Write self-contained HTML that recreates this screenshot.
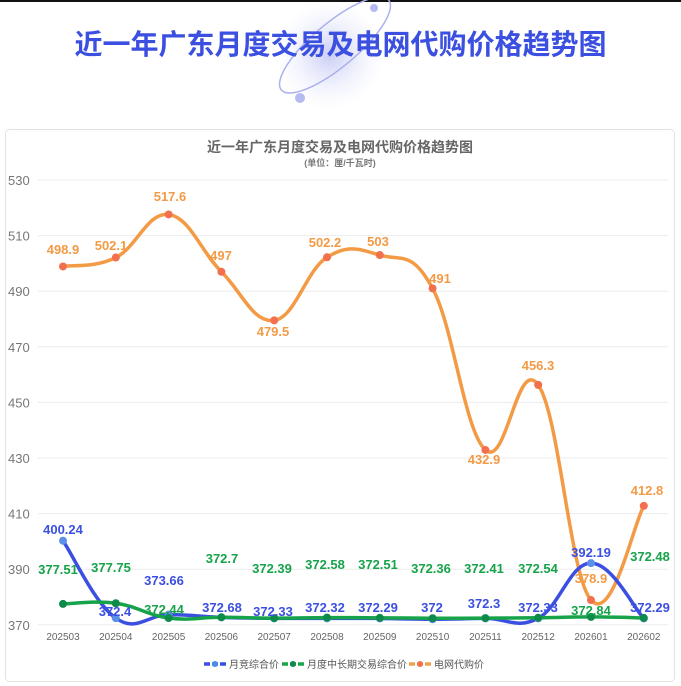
<!DOCTYPE html>
<html><head><meta charset="utf-8"><style>
body{margin:0;width:681px;height:686px;background:#fff;overflow:hidden;font-family:"Liberation Sans","Noto Sans CJK SC",sans-serif}
</style></head><body>
<svg width="681" height="686" xmlns="http://www.w3.org/2000/svg" style="position:absolute;left:0;top:0">
<defs><radialGradient id="g1" cx="50%" cy="50%" r="50%"><stop offset="0" stop-color="#c9cdf5"/><stop offset="1" stop-color="#eef0fc" stop-opacity="0"/></radialGradient></defs>
<rect x="0" y="0" width="681" height="2" fill="#111"/>
<circle cx="330" cy="55" r="55" fill="url(#g1)"/>
<ellipse cx="335" cy="45" rx="70" ry="22" transform="rotate(-40 335 45)" fill="none" stroke="#aab0ee" stroke-width="1.5"/>
<circle cx="300" cy="98" r="5" fill="#b5baf0"/><circle cx="374" cy="8" r="4" fill="#b5baf0"/>
<text x="340.5" y="54" text-anchor="middle" font-size="28" font-weight="bold" fill="#3b4fe0" font-family="Liberation Sans,Noto Sans CJK SC,sans-serif">近一年广东月度交易及电网代购价格趋势图</text>
<rect x="5.5" y="129.5" width="669" height="552" rx="4" fill="#fff" stroke="#e2e2e2"/>
<text x="340" y="152" text-anchor="middle" font-size="14" font-weight="bold" fill="#666">近一年广东月度交易及电网代购价格趋势图</text>
<text x="340" y="166" text-anchor="middle" font-size="9" font-weight="bold" fill="#777">(单位：厘/千瓦时)</text>
<g id="grid"></g><g id="series"></g><g id="labels"></g>
<g font-size="10" fill="#555">
<line x1="204" y1="664" x2="226" y2="664" stroke="#3b4fe0" stroke-width="3.5" stroke-dasharray="6 2"/><circle cx="215" cy="664" r="3" fill="#4a90e2"/><text x="229" y="668">月竞综合价</text>
<line x1="282" y1="664" x2="304" y2="664" stroke="#1aa64a" stroke-width="3.5" stroke-dasharray="6 2"/><circle cx="293" cy="664" r="3" fill="#0e8a4a"/><text x="307" y="668">月度中长期交易综合价</text>
<line x1="409" y1="664" x2="431" y2="664" stroke="#f0a050" stroke-width="3.5" stroke-dasharray="6 2"/><circle cx="420" cy="664" r="3" fill="#f07050"/><text x="434" y="668">电网代购价</text>
</g>
</svg>
<script>
var NS="http://www.w3.org/2000/svg";
function el(p,t,a,txt){var e=document.createElementNS(NS,t);for(var k in a)e.setAttribute(k,a[k]);if(txt!=null)e.textContent=txt;document.getElementById(p).appendChild(e);return e;}
function Y(v){return 180+(530-v)*2.78;}
function X(i){return 63+i*52.8;}
for(var v=370;v<=530;v+=20){el("grid","line",{x1:38,x2:668,y1:Y(v),y2:Y(v),stroke:"#ececec"});el("grid","text",{x:8,y:Y(v)+5,"font-size":13,fill:"#777"},v);}
var xl=["202503","202504","202505","202506","202507","202508","202509","202510","202511","202512","202601","202602"];
xl.forEach(function(s,i){el("grid","text",{x:X(i),y:640,"text-anchor":"middle","font-size":10,fill:"#666"},s);});
var B=[400.24,372.4,373.66,372.68,372.33,372.32,372.29,372,372.3,372.33,392.19,372.29];
var G=[377.51,377.75,372.44,372.7,372.39,372.58,372.51,372.36,372.41,372.54,372.84,372.48];
var O=[498.9,502.1,517.6,497,479.5,502.2,503,491,432.9,456.3,378.9,412.8];
function path(d){var p=d.map(function(v,i){return[X(i),Y(v)]});var s="M"+p[0][0]+","+p[0][1];
for(var i=0;i<p.length-1;i++){var p0=p[i-1]||p[i],p1=p[i],p2=p[i+1],p3=p[i+2]||p2;var t=0.2;
s+=" C"+(p1[0]+(p2[0]-p0[0])*t)+","+(p1[1]+(p2[1]-p0[1])*t)+" "+(p2[0]-(p3[0]-p1[0])*t)+","+(p2[1]-(p3[1]-p1[1])*t)+" "+p2[0]+","+p2[1];}return s;}
function ser(d,c,mc){el("series","path",{d:path(d),fill:"none",stroke:c,"stroke-width":3.5});d.forEach(function(v,i){el("series","circle",{cx:X(i),cy:Y(v),r:4,fill:mc});});}
ser(O,"#f39a45","#f2704e");ser(B,"#3b4fe0","#5b8fe8");ser(G,"#16a34a","#0e8a4a");
function labs(d,pos,c){d.forEach(function(v,i){el("labels","text",{x:pos[i][0],y:pos[i][1]+5,"text-anchor":"middle","font-size":13,"font-weight":"bold",fill:c},String(v));});}
labs(O,[[63,249],[111,245],[170,196],[221,255],[273,331],[325,242],[378,241],[440,278],[484,459],[538,365],[591,578],[647,490]],"#f39a45");
labs(B,[[63,529],[115,611],[164,580],[222,607],[273,611],[325,607],[378,607],[432,607],[484,603],[538,607],[591,552],[650,607]],"#3b4fe0");
labs(G,[[58,569],[111,567],[164,609],[222,558],[272,568],[325,564],[378,564],[431,568],[484,568],[538,568],[591,610],[650,556]],"#16a34a");
</script>
</body></html>
